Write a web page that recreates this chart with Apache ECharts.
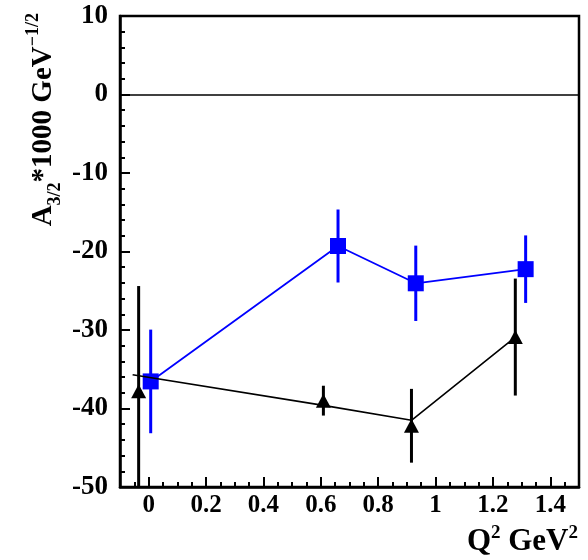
<!DOCTYPE html>
<html><head><meta charset="utf-8">
<script src="https://cdn.jsdelivr.net/npm/echarts@6/dist/echarts.min.js"></script>
<style>html,body{margin:0;padding:0;background:#fff}#c{width:588px;height:560px}</style>
</head><body><div id="c"></div>
<script>
// Tick values / labels
const xTicks = [0, 0.2, 0.4, 0.6, 0.8, 1, 1.2, 1.4];
const xTickLabels = ['0', '0.2', '0.4', '0.6', '0.8', '1', '1.2', '1.4'];
const yTicks = [-50, -40, -30, -20, -10, 0, 10];

// Blue squares
const blueQ2 = [0.007, 0.660, 0.931, 1.314];
const blueA = [-36.55, -19.3, -24.05, -22.25];
const blueErr = [6.6, 4.65, 4.8, 4.3];

// Black triangles
const blackQ2 = [-0.035, 0.609, 0.916, 1.278];
const blackA = [-37.8, -39.0, -42.2, -30.9];
const blackErr = [13.4, 1.9, 4.7, 7.45];

// Black curve
const curveQ2 = [-0.056, 0.609, 0.916, 1.278];
const curveA = [-35.7, -39.6, -41.5, -30.9];

const FONT = 'Liberation Serif';

function pairs(xs, ys) { return xs.map((x, i) => [x, ys[i]]); }

function errSeries(xs, ys, es, color, z) {
  return {
    type: 'custom', z: z, silent: true,
    data: xs.map((x, i) => [x, ys[i] - es[i], ys[i] + es[i]]),
    encode: { x: 0, y: [1, 2] },
    renderItem: function (params, api) {
      const lo = api.coord([api.value(0), api.value(1)]);
      const hi = api.coord([api.value(0), api.value(2)]);
      const cs = params.coordSys;
      const top = cs.y, bot = cs.y + cs.height;
      const y1 = Math.min(Math.max(lo[1], top), bot);
      const y2 = Math.min(Math.max(hi[1], top), bot);
      return { type: 'line', shape: { x1: lo[0], y1: y1, x2: hi[0], y2: y2 },
        style: { stroke: color, lineWidth: 3 } };
    }
  };
}

const chart = echarts.init(document.getElementById('c'));
chart.setOption({
  animation: false,
  grid: { left: 120, right: 9, top: 16, bottom: 73, show: true, borderColor: '#000', borderWidth: 2.5, containLabel: false },
  xAxis: [
    { type: 'value', min: -0.1, max: 1.5, interval: 0.05, position: 'bottom',
      axisLine: { show: true, onZero: false, lineStyle: { color: '#000', width: 2.5 } },
      axisTick: { show: true, inside: true, length: 5, lineStyle: { color: '#000', width: 2 } },
      axisLabel: { show: false }, splitLine: { show: false } },
    { type: 'value', min: -0.1, max: 1.5, position: 'bottom',
      axisLine: { show: false, onZero: false },
      axisTick: { show: true, inside: true, length: 10, customValues: xTicks, lineStyle: { color: '#000', width: 2 } },
      axisLabel: { show: true, customValues: xTicks, margin: 6,
        formatter: function (v) { const i = xTicks.findIndex(t => Math.abs(t - v) < 1e-9); return i >= 0 ? xTickLabels[i] : ''; },
        color: '#000', fontFamily: FONT, fontWeight: 'bold', fontSize: 25 },
      splitLine: { show: false } }
  ],
  yAxis: {
    type: 'value', min: yTicks[0], max: yTicks[yTicks.length - 1], interval: 10,
    axisLine: { show: true, onZero: false, lineStyle: { color: '#000', width: 2.5 } },
    axisTick: { show: true, inside: true, length: 10, lineStyle: { color: '#000', width: 2 } },
    minorTick: { show: true, splitNumber: 5, length: 5, lineStyle: { color: '#000', width: 2 } },
    axisLabel: { color: '#000', fontFamily: FONT, fontWeight: 'bold', fontSize: 27, margin: 12 },
    splitLine: { show: false }
  },
  graphic: [
    { type: 'text', x: 44, y: 13, rotation: Math.PI / 2, silent: true,
      style: { text: '{a|A}{s|3/2}{a|*1000 GeV}{p|−1/2}', align: 'right', verticalAlign: 'middle',
        fill: '#000',
        rich: {
          a: { fontFamily: FONT, fontWeight: 'bold', fontSize: 29, lineHeight: 40, verticalAlign: 'middle', fill: '#000' },
          s: { fontFamily: FONT, fontWeight: 'bold', fontSize: 18, lineHeight: 18, verticalAlign: 'bottom', fill: '#000' },
          p: { fontFamily: FONT, fontWeight: 'bold', fontSize: 18, lineHeight: 18, verticalAlign: 'top', fill: '#000' }
        } } },
    { type: 'text', x: 578, y: 542, silent: true,
      style: { text: '{a|Q}{p|2}{a| GeV}{p|2}', align: 'right', verticalAlign: 'middle', fill: '#000',
        rich: {
          a: { fontFamily: FONT, fontWeight: 'bold', fontSize: 31, lineHeight: 36, verticalAlign: 'middle', fill: '#000' },
          p: { fontFamily: FONT, fontWeight: 'bold', fontSize: 19, lineHeight: 19, verticalAlign: 'top', fill: '#000' }
        } } }
  ],
  series: [
    errSeries(blueQ2, blueA, blueErr, '#0000ff', 2),
    { type: 'line', z: 3, data: pairs(blueQ2, blueA), symbol: 'rect', symbolSize: 16,
      itemStyle: { color: '#0000ff' }, lineStyle: { color: '#0000ff', width: 1.8 }, silent: true },
    errSeries(blackQ2, blackA, blackErr, '#000', 4),
    { type: 'scatter', z: 5, data: pairs(blackQ2, blackA), symbol: 'triangle', symbolSize: [15, 14],
      itemStyle: { color: '#000', opacity: 1 }, silent: true },
    { type: 'line', z: 6, data: pairs(curveQ2, curveA), symbol: 'none',
      lineStyle: { color: '#000', width: 1.6 }, silent: true,
      markLine: { silent: true, symbol: 'none', label: { show: false },
        lineStyle: { color: '#000', width: 1.6, type: 'solid' }, data: [{ yAxis: 0 }] } }
  ]
});
</script></body></html>
